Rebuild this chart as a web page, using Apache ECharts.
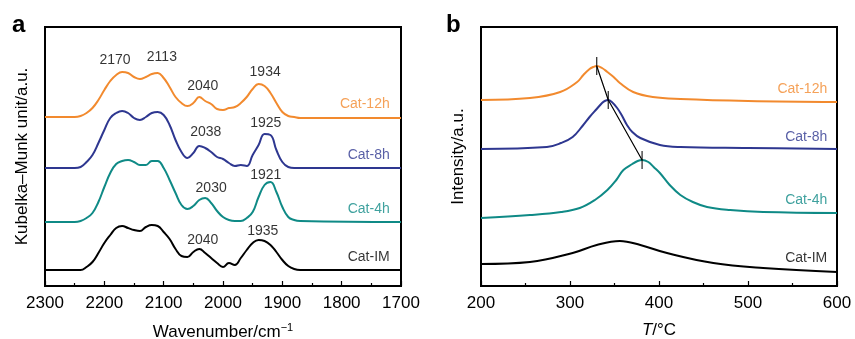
<!DOCTYPE html>
<html>
<head>
<meta charset="utf-8">
<script src="https://cdn.jsdelivr.net/npm/echarts@6/dist/echarts.min.js"></script>
<style>
  html, body { margin: 0; padding: 0; background: #fff; }
  #chart { width: 855px; height: 339px; }
</style>
</head>
<body>
<div id="chart"></div>
<script>
const FONT = "'Liberation Sans', Arial, sans-serif";

// panel a: DRIFTS spectra, wavenumber grid (cm-1) and Kubelka-Munk (arb., stacked)
const wavenumbers = [2300,2250,2240,2230,2220,2210,2200,2190,2180,2170,2160,2150,2140,2130,2120,2110,2100,2090,2080,2070,2060,2050,2040,2030,2020,2010,2000,1990,1980,1970,1960,1950,1940,1930,1920,1910,1900,1890,1880,1870,1700];
const cat12hIR = [169,169,170,173,178,186,196,205,211,214,213,209,207,209,212,213,208,199,189,183,180,183,189,185,182,177,176,178,179,183,189,197,202,200,193,183,174,170,169,168,168];
const cat8hIR  = [118,118,119,124,131,143,156,168,173,175,173,168,166,169,173,174,171,161,146,134,128,133,140,138,134,129,127,123,120,121,120,131,141,152,151,136,124,119,118,118,118];
const cat4hIR  = [64,64,65,68,73,84,99,113,122,125,126,124,121,121,125,125,118,106,93,81,77,80,86,88,83,75,69,66,65,65,68,74,89,101,104,94,79,69,66,65,64];
const catIMIR  = [16,16,16,19,24,33,43,51,58,60,58,56,55,59,61,60,54,47,37,30,29,34,37,33,28,23,19,23,21,28,36,43,46,45,41,34,26,20,17,16,16];

// panel a: peak annotations
const irPeakText = ['2170','2113','2040','1934','2038','1925','2030','1921','2040','1935'];
const irPeakPos = [[2182,226],[2103,229],[2034,200],[1929,214],[2029,154],[1928,163],[2020,98],[1928,111],[2034,46],[1933,55]];

// panel b: H2-TPR profiles, [T (°C), intensity (arb., stacked)]
const cat12hTPR = [[200,186],[255,188],[289,194],[308,204],[315,211],[322,217],[326,219],[330,220],[336,218],[342,214],[349,209],[356,203],[371,194],[393,189],[424,187],[500,185],[600,184]];
const cat8hTPR = [[200,137],[274,139],[290,143],[303,149],[314,160],[322,169],[330,177],[336,183],[339,185],[343,186],[347,184],[353,178],[358,171],[364,161],[370,154],[379,148],[401,141],[424,139],[500,138],[600,137]];
const cat4hTPR = [[200,68],[255,71],[290,74],[311,78],[328,86],[342,96],[352,106],[360,116],[370,122],[376,125],[381,126],[388,124],[394,119],[401,113],[412,101],[424,91],[438,84],[454,79],[480,76],[517,74],[600,73]];
const catIMTPR = [[200,22],[255,24],[303,33],[330,41],[356,45],[379,41],[409,33],[461,23],[517,18],[600,14]];

// panel b: peak maxima of Cat-12h, Cat-8h, Cat-4h
const tprPeaks = [[330,220],[343,186],[381,126]];

const names = ['Cat-12h','Cat-8h','Cat-4h','Cat-IM'];
const colors = ['#F28A2E','#2E3790','#0F8A86','#000000'];
const irLabelPos = [[1719,182],[1719,131],[1719,77],[1719,29]];
const tprLabelPos = [[589,197],[589,149],[589,86],[589,28]];

const chart = echarts.init(document.getElementById('chart'));

function curve(data, color, idx, smooth) {
  return {
    type: 'line', xAxisIndex: idx, yAxisIndex: idx, data: data,
    smooth: smooth, showSymbol: false, silent: true,
    lineStyle: { color: color, width: 2 }, z: 3
  };
}

function tagSeries(pos, idx) {
  return {
    type: 'scatter', xAxisIndex: idx, yAxisIndex: idx, symbolSize: 0, silent: true,
    data: pos.map((p, i) => ({
      value: p,
      label: { show: true, position: 'left', distance: 0, formatter: names[i],
               color: colors[i], fontSize: 14, fontFamily: FONT }
    }))
  };
}

const xCommon = {
  type: 'value',
  axisLine: { show: true, onZero: false, lineStyle: { color: '#000', width: 2 } },
  axisTick: { show: true, inside: true, length: 5, lineStyle: { color: '#000', width: 1.2 } },
  minorTick: { show: true, splitNumber: 2, length: 3, lineStyle: { color: '#000', width: 1.2 } },
  splitLine: { show: false },
  axisLabel: { color: '#000', fontSize: 17, fontFamily: FONT, margin: 9, formatter: v => String(v) },
  nameLocation: 'middle',
  nameTextStyle: { color: '#000', fontSize: 17, fontFamily: FONT }
};

const yCommon = {
  type: 'value', min: 0, max: 259,
  axisLine: { show: true, lineStyle: { color: '#000', width: 2 } },
  axisTick: { show: false }, axisLabel: { show: false }, splitLine: { show: false },
  nameLocation: 'middle', nameGap: 14,
  nameTextStyle: { color: '#000', fontSize: 17, fontFamily: FONT }
};

const zip = vals => wavenumbers.map((w, i) => [w, vals[i]]);

const series = [];
[cat12hIR, cat8hIR, cat4hIR, catIMIR].forEach((d, i) => series.push(curve(zip(d), colors[i], 0, 0.45)));
[cat12hTPR, cat8hTPR, cat4hTPR, catIMTPR].forEach((d, i) => series.push(curve(d, colors[i], 1, 0.4)));
series.push(tagSeries(irLabelPos, 0));
series.push(tagSeries(tprLabelPos, 1));
series.push({
  type: 'scatter', xAxisIndex: 0, yAxisIndex: 0, symbolSize: 0, silent: true,
  data: irPeakPos.map((p, i) => ({
    value: p,
    label: { show: true, position: 'inside', formatter: irPeakText[i],
             color: '#000', fontSize: 14, fontFamily: FONT }
  }))
});
series.push({
  type: 'line', xAxisIndex: 1, yAxisIndex: 1, data: tprPeaks, silent: true,
  showSymbol: false, lineStyle: { color: '#000', width: 1.2 }, z: 5
});
series.push({
  type: 'scatter', xAxisIndex: 1, yAxisIndex: 1, data: tprPeaks, silent: true,
  symbol: 'rect', symbolSize: [1.3, 18], itemStyle: { color: '#000' }, z: 6
});

chart.setOption({
  animation: false,
  backgroundColor: '#fff',
  textStyle: { fontFamily: FONT },
  grid: [
    { left: 45, right: 454, top: 27, bottom: 53, containLabel: false, outerBoundsMode: 'none',
      show: true, borderColor: '#000', borderWidth: 2 },
    { left: 481, right: 18, top: 27, bottom: 53, containLabel: false, outerBoundsMode: 'none',
      show: true, borderColor: '#000', borderWidth: 2 }
  ],
  xAxis: [
    Object.assign({}, xCommon, {
      gridIndex: 0, min: 1700, max: 2300, interval: 100, inverse: true,
      name: 'Wavenumber/cm{sup|\u22121}', nameGap: 36,
      nameTextStyle: Object.assign({}, xCommon.nameTextStyle, {
        rich: { sup: { fontSize: 11, fontFamily: FONT, color: '#000', verticalAlign: 'top', padding: [0, 0, 9, 0] } }
      })
    }),
    Object.assign({}, xCommon, {
      gridIndex: 1, min: 200, max: 600, interval: 100,
      name: '{it|T}/°C', nameGap: 36,
      nameTextStyle: Object.assign({}, xCommon.nameTextStyle, {
        rich: { it: { fontSize: 17, fontFamily: FONT, fontStyle: 'italic', color: '#000' } }
      })
    })
  ],
  yAxis: [
    Object.assign({}, yCommon, { gridIndex: 0, name: 'Kubelka\u2013Munk unit/a.u.' }),
    Object.assign({}, yCommon, { gridIndex: 1, name: 'Intensity/a.u.' })
  ],
  graphic: [
    { type: 'text', left: 12, top: 13, style: { text: 'a', font: 'bold 24px ' + FONT, fill: '#000' } },
    { type: 'text', left: 446, top: 13, style: { text: 'b', font: 'bold 24px ' + FONT, fill: '#000' } }
  ],
  series: series
});
</script>
</body>
</html>
